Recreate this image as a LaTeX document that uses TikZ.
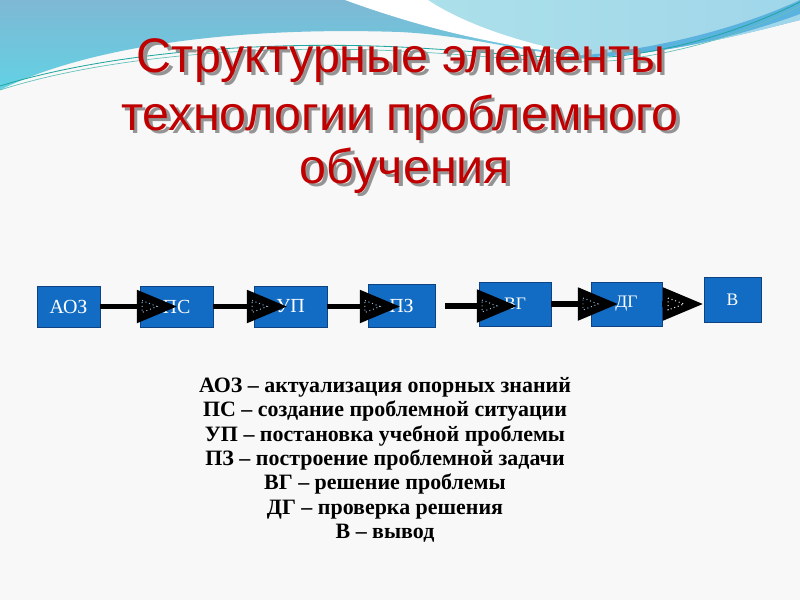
\documentclass[tikz,border=0pt]{standalone}
\usepackage{fontspec}
\setmainfont{Liberation Serif}
\newfontfamily\titlefont{Liberation Sans}
\usetikzlibrary{arrows.meta,calc}
\definecolor{bgwhite}{RGB}{248,248,248}
\definecolor{skyA}{RGB}{126,184,212}
\definecolor{skyB}{RGB}{98,210,228}
\definecolor{skyC}{RGB}{172,224,234}
\definecolor{skyD}{RGB}{90,178,222}
\definecolor{tealline}{RGB}{32,168,160}
\definecolor{titlered}{RGB}{192,0,0}
\definecolor{boxblue}{RGB}{18,108,196}
\definecolor{boxedge}{RGB}{14,66,130}
\definecolor{minitri}{RGB}{150,190,230}
\newcommand\shadowlayer[3]{\makebox[0pt][l]{\hspace*{#1}\raisebox{-#1}[0pt][0pt]{\color{#2}#3}}}
\newcommand\shadowed[1]{\shadowlayer{2.4pt}{black!42}{#1}{\color{titlered}#1}}
\begin{document}
\begin{tikzpicture}[x=0.025cm,y=-0.025cm,
  stepbox/.style={draw=boxedge, line width=0.6pt, fill=boxblue, text=white,
    inner sep=0pt, outer sep=0pt, font=\fontsize{14.2}{16}\selectfont},
  smallbox/.style={stepbox, font=\fontsize{12.5}{14}\selectfont},
  conn/.style={line width=3.6pt, black, -{Triangle[length=28.5pt,width=22.8pt]}},
  tinytri/.style={draw=minitri, dotted, line width=0.7pt},
  titletext/.style={font=\titlefont\fontsize{34.5}{40}\selectfont, anchor=base, inner sep=0pt},
  legtext/.style={font=\bfseries\fontsize{15.6}{18}\selectfont, anchor=base, inner sep=0pt}
]
\useasboundingbox (0,0) rectangle (800,600);
\fill[bgwhite] (0,0) rectangle (800,600);
% sky region
\shade[top color=skyA, bottom color=skyB]
  (0,0) -- (800,0) -- (800,20) .. controls (760,30) and (680,52) .. (600,56)
  .. controls (540,58) and (480,36) .. (400,32)
  .. controls (220,26) and (80,50) .. (0,90) -- cycle;
% lighter right part
\shade[left color=skyC, right color={rgb,255:red,160;green,214;blue,234}]
  (420,0) .. controls (470,30) and (520,48) .. (600,56)
  .. controls (680,52) and (760,30) .. (800,20) -- (800,0) -- cycle;
% white swoosh
\fill[white] (345,0) .. controls (400,20) and (480,45) .. (590,56)
  .. controls (500,40) and (450,15) .. (428,0) -- cycle;
% darker strip on the right
\fill[skyD] (560,57) .. controls (650,60) and (740,36) .. (800,14) -- (800,0)
  .. controls (740,28) and (650,52) .. (560,57) -- cycle;
% teal strands
\draw[tealline, line width=0.6pt] (0,86) .. controls (100,55) and (250,40) .. (400,47)
  .. controls (500,52) and (560,62) .. (620,56) .. controls (700,46) and (760,22) .. (800,2);
\draw[tealline!70!white, line width=0.5pt] (0,90) .. controls (100,58) and (250,44) .. (400,51)
  .. controls (500,56) and (560,66) .. (620,60) .. controls (700,50) and (760,26) .. (800,6);

% title with shadow
\node[titletext] (title1) at (401,72) {\shadowed{Структурные элементы}};
\node[titletext] (title2) at (400,130) {\shadowed{технологии проблемного}};
\node[titletext] (title3) at (405,183) {\shadowed{обучения}};

% boxes
\node[stepbox, minimum width=44.8pt, minimum height=29.2pt] (aoz) at (68.5,306.5) {АОЗ};
\node[stepbox, minimum width=51.9pt, minimum height=29.2pt] (ps)  at (176.5,306.5) {ПС};
\node[stepbox, minimum width=51.9pt, minimum height=29.2pt] (up)  at (290.5,306.5) {УП};
\node[stepbox, minimum width=47.7pt, minimum height=30.6pt] (pz)  at (401.5,305.5) {ПЗ};
\node[smallbox, minimum width=51.2pt, minimum height=31.3pt] (vg) at (515,304) {ВГ};
\node[smallbox, minimum width=50.5pt, minimum height=31.3pt] (dg) at (626.5,304) {ДГ};
\node[smallbox, minimum width=40.5pt, minimum height=32pt] (v) at (732.5,299.5) {В};

% arrow tips
\coordinate (t1) at ($(aoz.east -| ps.west)+(37,0)$);
\coordinate (t2) at ($(ps.east -| up.west)+(33,0)$);
\coordinate (t3) at ($(up.east -| pz.west)+(32,0)$);
\coordinate (s4) at ($(pz.east)+(10,0.5)$);
\coordinate (t4) at ($(s4 -| vg.west)+(38,0)$);
\coordinate (t5) at ($(vg.east -| dg.west)+(27,0)$);
\coordinate (t6) at ($(dg.east -| v.west)+(-1,0)$);

\draw[conn] (aoz.east) -- (t1);
\draw[conn] (ps.east) -- (t2);
\draw[conn] (up.east) -- (t3);
\draw[conn] (s4) -- (t4);
\draw[conn] (vg.east) -- (t5);
\draw[conn] (dg.east) -- (t6);

\foreach \t in {t1,t2,t3,t4,t5}{
  \draw[tinytri] ($(\t)+(-35,-6)$) -- ($(\t)+(-20,0)$) -- ($(\t)+(-35,6)$) -- cycle;
}
\draw[tinytri, draw=white] ($(t6)+(-35,-6)$) -- ($(t6)+(-19,0)$) -- ($(t6)+(-35,6)$) -- cycle;

% legend
\node[legtext] (leg1) at (385,392) {АОЗ – актуализация опорных знаний};
\node[legtext] (leg2) at (385,416.5) {ПС – создание проблемной ситуации};
\node[legtext] (leg3) at (385,441) {УП – постановка учебной проблемы};
\node[legtext] (leg4) at (385,465) {ПЗ – построение проблемной задачи};
\node[legtext] (leg5) at (385,489.5) {ВГ – решение проблемы};
\node[legtext] (leg6) at (385,514) {ДГ – проверка решения};
\node[legtext] (leg7) at (385,538) {В – вывод};
\end{tikzpicture}
\end{document}
